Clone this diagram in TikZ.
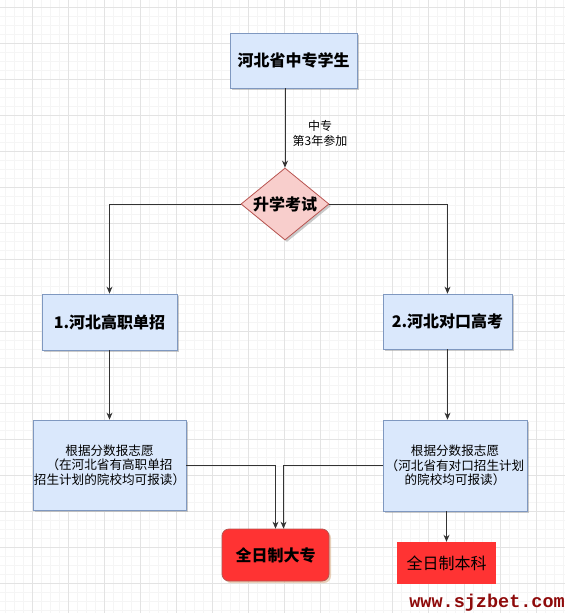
\documentclass[tikz,border=0pt]{standalone}
\usepackage{fontspec}
\setmainfont{Noto Sans CJK SC}
\newfontfamily\wmfont{Liberation Mono}
\usetikzlibrary{shapes.geometric}
\usetikzlibrary{arrows.meta,shadows}
\definecolor{boxblue}{HTML}{DAE8FC}
\definecolor{boxline}{HTML}{7F98C0}
\definecolor{diapink}{HTML}{F8CECC}
\definecolor{dialine}{HTML}{B85450}
\definecolor{hotred}{HTML}{FF3333}
\definecolor{wmred}{HTML}{8E0A0A}
\newcommand{\cjksize}[1]{\fontsize{#1}{#1}\selectfont}
\tikzset{bluebox/.style={rectangle, draw=boxline, fill=boxblue, line width=0.8pt, align=center,
    drop shadow={shadow xshift=2pt, shadow yshift=-2pt, fill=gray!70, opacity=.6}},
  redbox/.style={rectangle, fill=hotred, inner sep=0pt},
  conn/.style={draw=black!80, line width=0.9pt, -{Stealth[length=7pt,width=6pt]}}}

\begin{document}
\begin{tikzpicture}[x=1pt,y=-1pt]
\useasboundingbox (0,0) rectangle (565,613);

% background grid
\foreach \gx in {5,14,...,565} \draw[black!4, line width=0.6pt] (\gx,0) -- (\gx,613);
\foreach \gy in {7,16,...,613} \draw[black!4, line width=0.6pt] (0,\gy) -- (565,\gy);
\foreach \gx in {32,68,...,565} \draw[black!11, line width=0.7pt] (\gx,0) -- (\gx,613);
\foreach \gy in {7,43,...,613} \draw[black!11, line width=0.7pt] (0,\gy) -- (565,\gy);

\node[bluebox, minimum width=127, minimum height=55, font=\cjksize{16}\bfseries] (student) at (293.5,60.5) {河北省中专学生};
\node[diamond, draw=dialine, fill=diapink, line width=0.8pt, inner sep=0pt, aspect=1.22,
  minimum width=88, minimum height=72, font=\cjksize{16}\bfseries,
  drop shadow={shadow xshift=2pt, shadow yshift=-2pt, fill=gray!70, opacity=.6}] (exam) at (285,204) {升学考试};

\node[bluebox, minimum width=135, minimum height=56, font=\cjksize{16}\bfseries] (gaozhi) at (109.5,322) {1.河北高职单招};
\node[bluebox, minimum width=129, minimum height=55, font=\cjksize{16}\bfseries] (duikou) at (447.5,321.5) {2.河北对口高考};

\node[bluebox, inner xsep=0pt, minimum width=153, minimum height=90, font=\fontsize{12.6}{14.5}\selectfont] (zhiyuanA) at (109.5,465) {根据分数报志愿\\（在河北省有高职单招\\招生计划的院校均可报读）};
\node[bluebox, inner xsep=0pt, minimum width=144, minimum height=91, font=\fontsize{12.6}{14.5}\selectfont] (zhiyuanB) at (455,465.5) {根据分数报志愿\\（河北省有对口招生计划\\的院校均可报读）};

\node[redbox, rounded corners=7pt, draw=dialine, line width=0.8pt, minimum width=107, minimum height=52,
  font=\cjksize{16}\bfseries, drop shadow={shadow xshift=2pt, shadow yshift=-2pt, fill=brown!60, opacity=.6}] (dazhuan) at (275.5,555) {全日制大专};
\node[redbox, minimum width=99, minimum height=42, font=\cjksize{16}] (benke) at (446.5,563) {全日制本科};

\node[align=center, font=\fontsize{12}{15}\selectfont] (year) at (320,133) {中专\\第3年参加};

\node[text=wmred, font=\wmfont\bfseries\fontsize{18.5}{18.5}\selectfont, anchor=east, inner sep=0pt] (site) at (565,603) {www.sjzbet.com};

\draw[conn] (student.south -| exam.north) -- (exam.north);
\draw[conn] (exam.west) -| (gaozhi.north);
\draw[conn] (exam.east) -| (duikou.north);
\draw[conn] (gaozhi.south) -- (zhiyuanA.north);
\draw[conn] (duikou.south) -- (duikou.south |- zhiyuanB.north);
\draw[conn] (zhiyuanA.east) -| (dazhuan.north);
\draw[conn] (zhiyuanB.west) -| ([xshift=8pt]dazhuan.north);
\draw[conn] (zhiyuanB.south -| benke.north) -- (benke.north);

\end{tikzpicture}
\end{document}
